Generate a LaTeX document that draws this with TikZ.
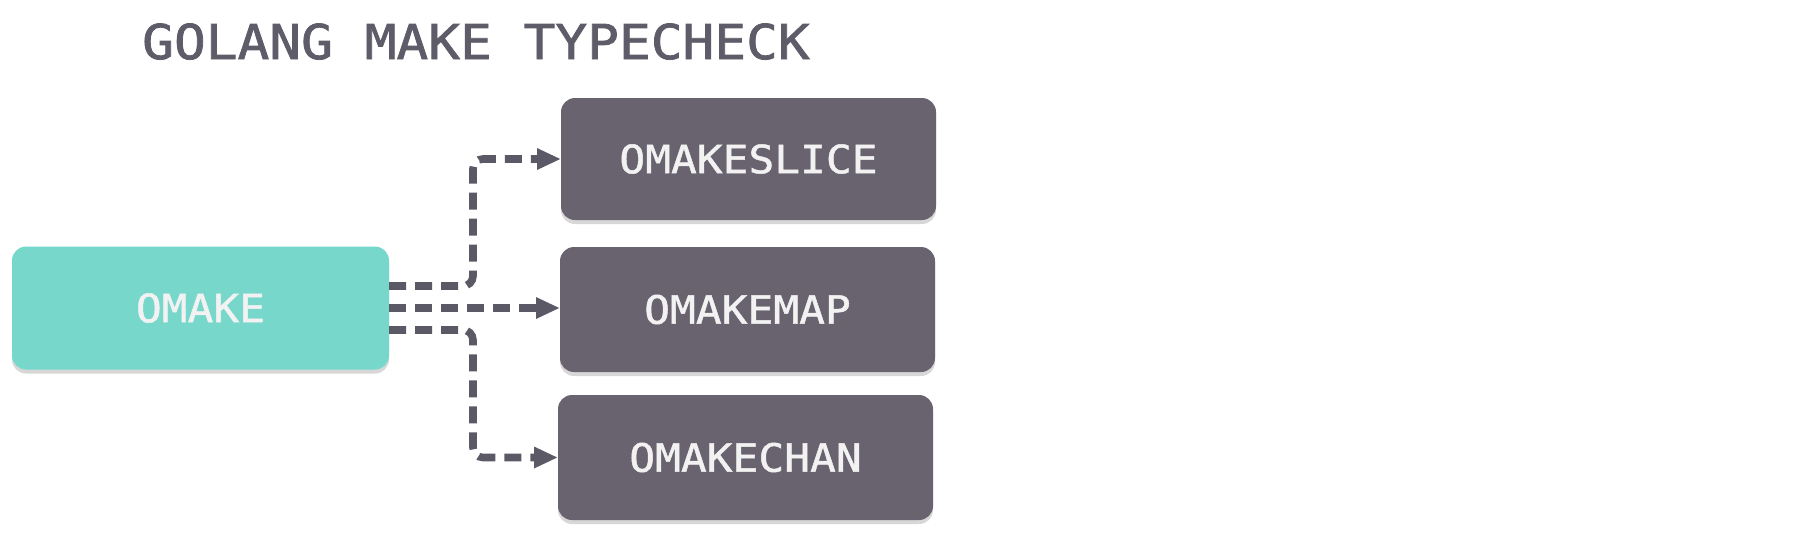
\documentclass[tikz,border=0pt]{standalone}
\usepackage{fontspec}
\usetikzlibrary{arrows.meta,shadows,calc}
\newfontfamily\boxfont[FakeStretch=1.1,FakeBold=1.2]{DejaVu Sans Mono}
\newfontfamily\titlefont[FakeStretch=1.1,FakeBold=1.6]{DejaVu Sans Mono}
\definecolor{tealbox}{HTML}{77D7CB}
\definecolor{darkbox}{HTML}{68636F}
\definecolor{linecol}{HTML}{5C5966}
\definecolor{titlecol}{HTML}{5E5C68}
\definecolor{boxtext}{HTML}{F2F2F2}
\tikzset{
  basebox/.style={rounded corners=7pt, inner sep=0pt, outer sep=0pt,
    text=boxtext, font=\boxfont\fontsize{19.5pt}{20pt}\selectfont,
    drop shadow={shadow xshift=0pt, shadow yshift=-2pt, fill=black!35, opacity=0.45}},
  srcbox/.style={basebox, fill=tealbox},
  dstbox/.style={basebox, fill=darkbox},
  conn/.style={draw=linecol, line width=3.8pt, dash pattern=on 8.5pt off 4.5pt,
    rounded corners=5pt, -{Triangle[length=12pt,width=10pt]}}
}
\begin{document}
\begin{tikzpicture}[x=0.5pt,y=-0.5pt]
\useasboundingbox (0,0) rectangle (1796,538);
\node[anchor=base, text=titlecol, font=\titlefont\fontsize{24pt}{26pt}\selectfont] (title) at (476,59) {GOLANG MAKE TYPECHECK};
\node[srcbox, minimum width=188.5pt, minimum height=61.5pt] (omake) at (200.5,308) {OMAKE};
\node[dstbox, minimum width=187.5pt, minimum height=61pt] (slice) at (748.5,159) {OMAKESLICE};
\node[dstbox, minimum width=187.5pt, minimum height=62.5pt] (map) at (747.5,309.5) {OMAKEMAP};
\node[dstbox, minimum width=187.5pt, minimum height=62.5pt] (chan) at (745.5,457.5) {OMAKECHAN};
\coordinate (bx) at (473,0);
\draw[conn] ([yshift=11pt]omake.east) -- ([yshift=11pt]omake.east -| bx) -- (bx |- slice.west) -- (slice.west);
\draw[conn] (omake.east) -- (omake.east -| map.west);
\draw[conn] ([yshift=-11pt]omake.east) -- ([yshift=-11pt]omake.east -| bx) -- (bx |- chan.west) -- (chan.west);
\end{tikzpicture}
\end{document}
